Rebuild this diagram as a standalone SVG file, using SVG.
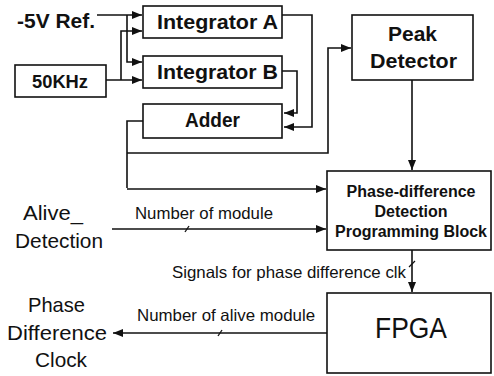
<svg xmlns="http://www.w3.org/2000/svg" width="494" height="376" viewBox="0 0 494 376">
  <style>
    .box { fill: #fff; stroke: #111; stroke-width: 1.6; }
    .wire { fill: none; stroke: #111; stroke-width: 1.6; }
    .arr { marker-end: url(#ah); }
    .tick { fill: none; stroke: #111; stroke-width: 1.3; }
    .b { font-family: "Liberation Sans", Arial, sans-serif; font-weight: bold; fill: #111; }
    .r { font-family: "Liberation Sans", Arial, sans-serif; fill: #111; }
  </style>
  <defs>
    <marker id="ah" markerUnits="userSpaceOnUse" markerWidth="11" markerHeight="8" refX="10" refY="4" orient="auto">
      <path d="M0,0 L10,4 L0,8 Z" fill="#111"/>
    </marker>
  </defs>
  <rect width="494" height="376" fill="#fff"/>

  <!-- connectors -->
  <g id="connectors">
    <!-- -5V reference to both integrators -->
    <path class="wire arr" d="M97,15 H142"/>
    <path class="wire arr" d="M127,15 V62 H142"/>
    <!-- 50KHz clock to both integrators -->
    <path class="wire arr" d="M106,80 H142"/>
    <path class="wire arr" d="M121,80 V31 H142"/>
    <!-- integrator outputs into adder -->
    <path class="wire arr" d="M282,15 H312 V127 H284"/>
    <path class="wire arr" d="M282,71 H297 V113 H284"/>
    <!-- adder output fan-out -->
    <path class="wire" d="M143,121 H127 V188"/>
    <path class="wire arr" d="M127,153 H328 V48 H351"/>
    <path class="wire arr" d="M127,189 H326"/>
    <!-- peak detector to detection block -->
    <path class="wire arr" d="M412,80 V170"/>
    <!-- alive detection bus -->
    <path class="wire arr" d="M112,229 H326"/>
    <path class="tick" d="M185,232 L189,226"/>
    <!-- detection block to FPGA -->
    <path class="wire arr" d="M412,250 V292"/>
    <path class="tick" d="M409,267 L415,261"/>
    <!-- FPGA to phase difference clock -->
    <path class="wire arr" d="M327,333 H113"/>
    <path class="tick" d="M218,336 L222,330"/>
  </g>

  <g id="ref-label">
    <text class="b" x="17" y="28" font-size="21" textLength="78" lengthAdjust="spacingAndGlyphs">-5V Ref.</text>
  </g>

  <g id="clk50">
    <rect class="box" x="15" y="65" width="91" height="32"/>
    <text class="b" x="32" y="88" font-size="19" textLength="56" lengthAdjust="spacingAndGlyphs">50KHz</text>
  </g>

  <g id="integrator-a">
    <rect class="box" x="143" y="6" width="139" height="32"/>
    <text class="b" x="157" y="29" font-size="21" textLength="121" lengthAdjust="spacingAndGlyphs">Integrator A</text>
  </g>

  <g id="integrator-b">
    <rect class="box" x="143" y="56" width="139" height="32"/>
    <text class="b" x="157" y="79" font-size="21" textLength="121" lengthAdjust="spacingAndGlyphs">Integrator B</text>
  </g>

  <g id="adder">
    <rect class="box" x="143" y="104" width="139" height="34"/>
    <text class="b" x="185" y="127" font-size="20" textLength="55" lengthAdjust="spacingAndGlyphs">Adder</text>
  </g>

  <g id="peak-detector">
    <rect class="box" x="352" y="15" width="121" height="65"/>
    <text class="b" x="388" y="41" font-size="21" textLength="49" lengthAdjust="spacingAndGlyphs">Peak</text>
    <text class="b" x="370" y="68" font-size="21" textLength="87" lengthAdjust="spacingAndGlyphs">Detector</text>
  </g>

  <g id="detection-block">
    <rect class="box" x="327" y="171" width="164" height="79"/>
    <text class="b" x="411" y="197" font-size="16" text-anchor="middle">Phase-difference</text>
    <text class="b" x="411" y="217" font-size="16" text-anchor="middle">Detection</text>
    <text class="b" x="411" y="237" font-size="16" text-anchor="middle">Programming Block</text>
  </g>

  <g id="fpga">
    <rect class="box" x="327" y="293" width="164" height="80"/>
    <text class="r" x="375" y="338" font-size="29" textLength="72" lengthAdjust="spacingAndGlyphs">FPGA</text>
  </g>

  <g id="alive-detection">
    <text class="r" x="23" y="220" font-size="21" textLength="60" lengthAdjust="spacingAndGlyphs">Alive_</text>
    <text class="r" x="15" y="248" font-size="21" textLength="88" lengthAdjust="spacingAndGlyphs">Detection</text>
  </g>

  <g id="phase-difference-clock">
    <text class="r" x="28" y="312" font-size="21" textLength="57" lengthAdjust="spacingAndGlyphs">Phase</text>
    <text class="r" x="7" y="340" font-size="21" textLength="100" lengthAdjust="spacingAndGlyphs">Difference</text>
    <text class="r" x="35" y="367" font-size="21" textLength="52" lengthAdjust="spacingAndGlyphs">Clock</text>
  </g>

  <g id="labels">
    <text class="r" x="135" y="219" font-size="16.5" textLength="138" lengthAdjust="spacingAndGlyphs">Number of module</text>
    <text class="r" x="172" y="278" font-size="16.5" textLength="234" lengthAdjust="spacingAndGlyphs">Signals for phase difference clk</text>
    <text class="r" x="137" y="321" font-size="16.5" textLength="178" lengthAdjust="spacingAndGlyphs">Number of alive module</text>
  </g>
</svg>
